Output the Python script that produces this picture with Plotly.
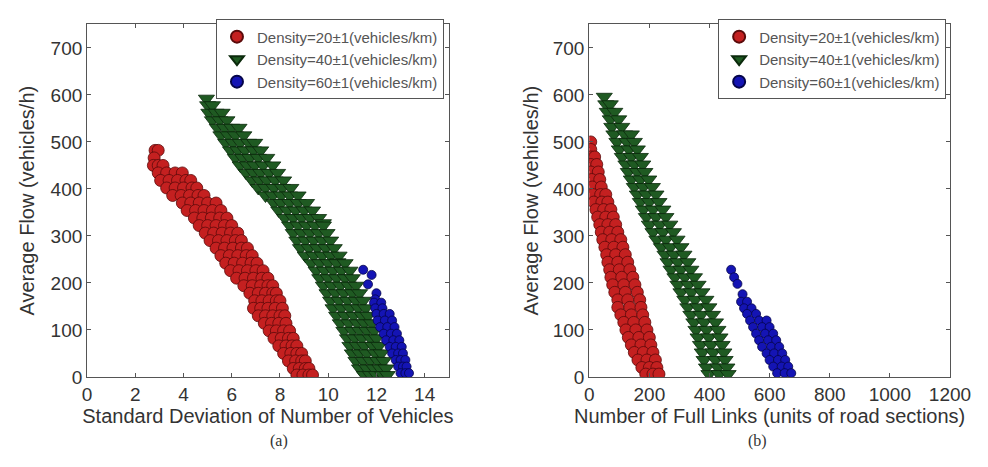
import plotly.graph_objects as go

# ---- data: one y level per row, x positions of the points on that row ----

# (a) flow vs standard deviation of number of vehicles
RED_A_Y = [482, 466, 450, 434, 418, 402, 386, 370, 354, 338, 322, 306, 290, 274, 258, 242,
           226, 210, 194, 178, 162, 146, 130, 114, 98, 82, 66, 50, 34, 18, 4]
RED_A_X = [
    [2.82, 2.95], [2.78], [2.75, 2.95, 3.15], [2.95, 3.3, 3.65, 3.95],
    [3.05, 3.4, 3.75, 4.1, 4.3], [3.3, 3.65, 4.0, 4.35, 4.55], [3.55, 3.9, 4.25, 4.6, 4.85],
    [3.95, 4.3, 4.65, 5.0, 5.35], [4.15, 4.5, 4.85, 5.2, 5.55], [4.45, 4.8, 5.15, 5.5, 5.8],
    [4.65, 5.0, 5.35, 5.7, 6.0], [4.9, 5.25, 5.6, 5.95, 6.25], [5.1, 5.45, 5.8, 6.15, 6.4],
    [5.35, 5.7, 6.05, 6.4, 6.65], [5.55, 5.9, 6.25, 6.6, 6.85], [5.75, 6.1, 6.45, 6.8, 7.05],
    [5.95, 6.3, 6.65, 7.0, 7.3], [6.2, 6.55, 6.9, 7.25, 7.5], [6.5, 6.85, 7.2, 7.5, 7.7],
    [6.75, 7.1, 7.4, 7.7, 7.85], [6.95, 7.25, 7.55, 7.85, 8.0], [6.9, 7.2, 7.5, 7.8, 8.1],
    [7.1, 7.4, 7.7, 8.0, 8.2], [7.35, 7.65, 7.95, 8.25], [7.55, 7.85, 8.15, 8.4],
    [7.75, 8.05, 8.35, 8.55], [7.95, 8.25, 8.5, 8.7], [8.15, 8.45, 8.7, 8.9],
    [8.35, 8.65, 8.9, 9.05], [8.55, 8.8, 9.05, 9.2], [8.7, 8.95, 9.2, 9.35],
]

GREEN_A_Y = [592, 578, 562, 546, 530, 514, 498, 482, 466, 450, 434, 418, 402, 386, 370, 354,
             338, 327, 322, 306, 290, 274, 258, 244, 242, 226, 210, 194, 178, 162, 146, 130,
             114, 98, 82, 66, 50, 34, 18, 4]
GREEN_A_X = [
    [4.95], [5.0, 5.2], [5.05, 5.35, 5.6], [5.2, 5.5, 5.8], [5.4, 5.7, 6.0, 6.3],
    [5.55, 5.85, 6.15, 6.5], [5.75, 6.05, 6.35, 6.7, 6.95], [5.95, 6.25, 6.55, 6.9, 7.2],
    [6.15, 6.45, 6.75, 7.1, 7.45], [6.35, 6.65, 6.95, 7.3, 7.7], [6.6, 6.9, 7.2, 7.55, 7.9],
    [6.85, 7.15, 7.45, 7.8, 8.15], [7.1, 7.4, 7.75, 8.1, 8.45], [7.4, 7.7, 8.05, 8.4, 8.75],
    [7.75, 8.05, 8.4, 8.75, 9.1], [7.95, 8.3, 8.65, 9.0, 9.35], [8.2, 8.55, 8.9, 9.25, 9.6],
    [9.8], [8.4, 8.75, 9.1, 9.45, 9.8], [8.55, 8.9, 9.25, 9.6, 9.95],
    [8.7, 9.05, 9.4, 9.75, 10.1], [8.85, 9.2, 9.55, 9.9, 10.25], [9.05, 9.4, 9.75, 10.1, 10.45],
    [10.4], [9.3, 9.65, 10.0, 10.35, 10.7], [9.5, 9.85, 10.2, 10.55, 10.9],
    [9.65, 10.0, 10.35, 10.7, 11.0], [9.8, 10.15, 10.5, 10.85, 11.15],
    [9.95, 10.3, 10.65, 11.0, 11.3], [10.1, 10.45, 10.8, 11.15, 11.45],
    [10.2, 10.55, 10.9, 11.25, 11.55], [10.35, 10.7, 11.05, 11.4, 11.65],
    [10.5, 10.85, 11.2, 11.5, 11.8], [10.65, 11.0, 11.3, 11.6, 11.9],
    [10.8, 11.1, 11.4, 11.75, 12.0], [10.9, 11.2, 11.5, 11.85, 12.1],
    [11.0, 11.3, 11.6, 11.95, 12.2], [11.15, 11.45, 11.75, 12.05, 12.3],
    [11.3, 11.6, 11.9, 12.15, 12.4], [11.5, 11.75, 12.0, 12.25, 12.45],
]

BLUE_A_Y = [228, 217, 197, 178, 165, 158, 146, 134, 120, 106, 92, 78, 64, 50, 36, 22, 8]
BLUE_A_X = [
    [11.45], [11.8], [11.65], [12.0], [11.95], [11.9, 12.2], [11.95, 12.25],
    [12.0, 12.3, 12.55], [12.05, 12.35, 12.65], [12.15, 12.45, 12.75], [12.3, 12.6, 12.85],
    [12.4, 12.7, 12.95], [12.55, 12.8, 13.05], [12.65, 12.9, 13.1], [12.8, 13.0, 13.2],
    [12.9, 13.1, 13.25], [13.0, 13.2, 13.35],
]

# (b) flow vs number of full links
RED_B_Y = [500, 484, 468, 452, 436, 420, 404, 388, 372, 356, 340, 324, 308, 292, 276, 260,
           244, 228, 212, 196, 180, 164, 148, 132, 116, 100, 84, 68, 52, 36, 20, 6]
RED_B_X = [
    [5], [5], [5, 18], [5, 25], [5, 30], [8, 35], [10, 40], [12, 38, 55], [15, 42, 62],
    [22, 48, 72], [28, 55, 80], [35, 62, 88], [40, 68, 95], [45, 75, 105], [52, 82, 112],
    [58, 88, 120], [62, 95, 128], [68, 100, 135], [72, 108, 145], [78, 115, 152],
    [85, 120, 160], [95, 128, 168], [95, 135, 172], [105, 140, 178], [115, 148, 185],
    [122, 155, 192], [130, 165, 200], [140, 172, 205], [150, 180, 212], [162, 192, 220],
    [175, 200, 225], [188, 212, 232],
]

GREEN_B_Y = [596, 580, 564, 548, 532, 516, 500, 484, 468, 452, 436, 420, 404, 388, 372, 356,
             340, 324, 308, 292, 276, 260, 244, 228, 212, 196, 180, 164, 148, 132, 116, 100,
             84, 68, 52, 36, 20, 6]
GREEN_B_X = [
    [50], [55, 70], [60, 85], [70, 98], [75, 108], [82, 118, 140], [92, 125, 150],
    [100, 132, 160], [110, 140, 170], [122, 150, 178], [130, 160, 185], [140, 170, 198],
    [150, 180, 210], [160, 190, 222], [170, 200, 232], [180, 212, 245], [190, 222, 255],
    [200, 235, 268], [212, 245, 280], [225, 255, 292], [240, 270, 305], [252, 282, 315],
    [262, 295, 328], [272, 305, 338], [285, 318, 350], [295, 330, 362], [305, 340, 375],
    [318, 352, 388], [328, 362, 398], [338, 372, 410], [348, 382, 420], [355, 390, 428],
    [362, 398, 435], [370, 405, 442], [376, 412, 448], [382, 420, 452], [390, 428, 458],
    [398, 432, 462],
]

BLUE_B_Y = [228, 212, 198, 176, 160, 146, 134, 120, 106, 92, 78, 64, 50, 36, 22, 8]
BLUE_B_X = [
    [472], [482], [493], [510], [505, 525], [515, 540], [525, 555], [535, 565, 590],
    [545, 575, 600], [555, 585, 612], [565, 595, 622], [575, 605, 632], [590, 615, 642],
    [600, 628, 652], [612, 640, 662], [625, 650, 672],
]

LABELS = ["Density=20±1(vehicles/km)", "Density=40±1(vehicles/km)", "Density=60±1(vehicles/km)"]

RED = "#c42020"
RED_EDGE = "#5a0a0a"
GREEN = "#1f5a22"
GREEN_EDGE = "#0b2a0c"
BLUE = "#1414b4"
BLUE_EDGE = "#05054a"

TEXT = "#333333"
FONT = "Liberation Sans"


def flatten(ys, xs):
    px, py = [], []
    for y, row in zip(ys, xs):
        for x in row:
            px.append(x)
            py.append(y)
    return px, py


STYLES = [
    dict(symbol="circle", size=12, color=RED, line=dict(color=RED_EDGE, width=0.8)),
    dict(symbol="triangle-down", size=14, color=GREEN, line=dict(color=GREEN_EDGE, width=0.8)),
    dict(symbol="circle", size=9, color=BLUE, line=dict(color=BLUE_EDGE, width=0.8)),
]

fig = go.Figure()

panels = [
    ("x", "y", "legend", [(RED_A_Y, RED_A_X), (GREEN_A_Y, GREEN_A_X), (BLUE_A_Y, BLUE_A_X)]),
    ("x2", "y2", "legend2", [(RED_B_Y, RED_B_X), (GREEN_B_Y, GREEN_B_X), (BLUE_B_Y, BLUE_B_X)]),
]
for xa, ya, leg, series in panels:
    for (ys, xs), label, style in zip(series, LABELS, STYLES):
        px, py = flatten(ys, xs)
        fig.add_trace(go.Scatter(
            x=px, y=py, mode="markers", name=label, marker=style,
            xaxis=xa, yaxis=ya, legend=leg,
        ))

axis_common = dict(
    showgrid=False, zeroline=False, showline=True, linecolor="#555", linewidth=1,
    mirror="ticks", ticks="inside", ticklen=4, tickcolor="#555",
    tickfont=dict(family=FONT, size=19, color=TEXT),
    title_font=dict(family=FONT, size=20, color=TEXT),
)

legend_common = dict(
    bgcolor="white", bordercolor="#555", borderwidth=1,
    font=dict(family=FONT, size=15, color="#555"),
    xanchor="right", yanchor="top", y=0.975,
    itemsizing="constant", tracegroupgap=0, itemwidth=30,
)

fig.update_layout(
    width=988, height=467,
    margin=dict(l=0, r=0, t=0, b=0),
    paper_bgcolor="white", plot_bgcolor="white",
    xaxis=dict(domain=[0.077, 0.453], range=[0, 15], dtick=2, anchor="y",
               title=dict(text="Standard Deviation of Number of Vehicles", standoff=0), **axis_common),
    yaxis=dict(domain=[0.191, 0.964], range=[0, 750], dtick=100, anchor="x",
               title=dict(text="Average Flow (vehicles/h)", standoff=10), **axis_common),
    xaxis2=dict(domain=[0.599, 0.974], range=[0, 1200], dtick=200, anchor="y2",
                title=dict(text="Number of Full Links (units of road sections)", standoff=0), **axis_common),
    yaxis2=dict(domain=[0.191, 0.964], range=[0, 750], dtick=100, anchor="x2",
                title=dict(text="Average Flow (vehicles/h)", standoff=8), **axis_common),
    legend=dict(x=0.448, **legend_common),
    legend2=dict(x=0.970, **legend_common),
    annotations=[
        dict(text="(a)", x=0.265, y=0.051, xref="paper", yref="paper", showarrow=False,
             yanchor="middle", font=dict(family="Liberation Serif", size=16, color=TEXT)),
        dict(text="(b)", x=0.786, y=0.051, xref="paper", yref="paper", showarrow=False,
             yanchor="middle", font=dict(family="Liberation Serif", size=16, color=TEXT)),
    ],
)

fig.write_html("out.html")
